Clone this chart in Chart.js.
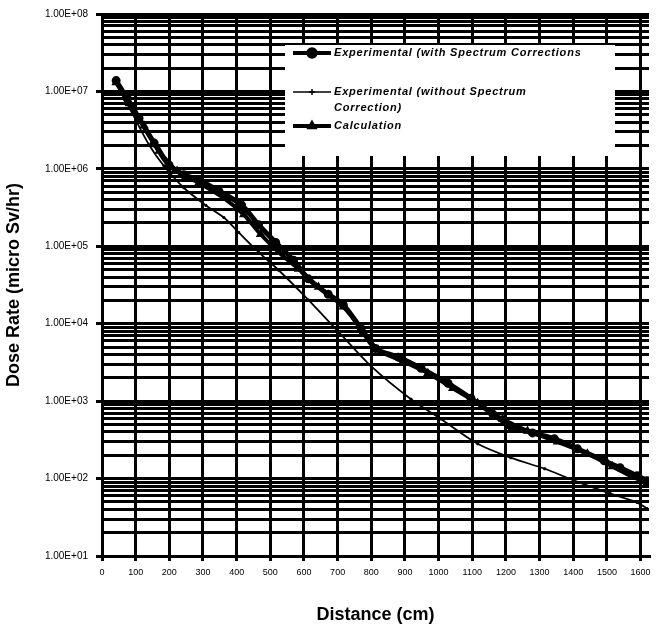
<!DOCTYPE html>
<html lang="en">
<head>
  <meta charset="UTF-8">
  <title>Dose Rate vs Distance</title>
  <script src="https://cdn.jsdelivr.net/npm/chart.js"></script>
  <style>
    body {
      margin: 0;
      background: #ffffff;
    }
    canvas {
      display: block;
    }
  </style>
</head>
<body>
  <canvas id="doseChart" width="658" height="627"></canvas>

  <script>
    // distance (cm) and dose rate (micro Sv/hr)
    const distWith = [42, 75, 110, 155, 199, 243, 288, 347, 415, 465, 516, 569, 613, 672, 717, 770, 812, 880, 948, 1028, 1096, 1161, 1214, 1279, 1344, 1412, 1492, 1539, 1590, 1619];
    const doseWith = [1.38e7, 8.1e6, 4.5e6, 2.15e6, 1.12e6, 8.4e5, 7.2e5, 5.2e5, 3.4e5, 1.9e5, 1.12e5, 6.6e4, 3.8e4, 2.4e4, 1.75e4, 8.6e3, 4.8e3, 3.7e3, 2.65e3, 1.7e3, 1.09e3, 680, 478, 389, 326, 243, 170, 138, 109, 94];

    const distWithout = [42, 90, 140, 184, 243, 309, 362, 406, 465, 525, 613, 702, 800, 918, 1007, 1116, 1214, 1315, 1403, 1510, 1590, 1619];
    const doseWithout = [1.27e7, 5.2e6, 2.03e6, 1.09e6, 5.7e5, 3.36e5, 2.35e5, 1.51e5, 8.4e4, 4.9e4, 2.03e4, 7.9e3, 2.81e3, 1.06e3, 588, 281, 186, 134, 94, 64, 49, 41];

    const distCalc = [42, 81, 125, 170, 223, 288, 362, 421, 471, 525, 584, 643, 717, 776, 820, 894, 968, 1042, 1116, 1190, 1264, 1353, 1442, 1516, 1575, 1619];
    const doseCalc = [1.30e7, 7.0e6, 3.6e6, 1.70e6, 9.4e5, 6.6e5, 4.2e5, 2.57e5, 1.43e5, 8.4e4, 5.1e4, 2.98e4, 1.65e4, 7.9e3, 4.6e3, 3.26e3, 2.29e3, 1.47e3, 942, 588, 412, 298, 209, 143, 106, 89];

    const seriesNames = [
      ['Experimental (with Spectrum Corrections'],
      ['Experimental (without Spectrum', 'Correction)'],
      ['Calculation']
    ];

    const xTicks = [0, 100, 200, 300, 400, 500, 600, 700, 800, 900, 1000, 1100, 1200, 1300, 1400, 1500, 1600];
    const decades = [1e1, 1e2, 1e3, 1e4, 1e5, 1e6, 1e7, 1e8];

    const toPoints = (xs, ys) => xs.map((x, i) => ({ x: x, y: ys[i] }));

    const isDecade = v => Math.abs(Math.log10(v) - Math.round(Math.log10(v))) < 1e-9;

    // legend sits inside the plot, on a white box
    const boxLegend = {
      id: 'boxLegend',
      afterDraw(chart) {
        const ctx = chart.ctx;
        ctx.save();
        ctx.fillStyle = '#ffffff';
        ctx.fillRect(285, 45, 330, 111);
        ctx.strokeStyle = '#000';
        ctx.fillStyle = '#000';
        ctx.textBaseline = 'middle';
        ctx.font = 'italic bold 11px Arial';
        ctx.letterSpacing = '0.8px';

        const rows = [
          { y: 53, width: 4, style: 'circle' },
          { y: 92, width: 1.5, style: 'cross' },
          { y: 126, width: 4, style: 'triangle' }
        ];
        rows.forEach((r, i) => {
          ctx.lineWidth = r.width;
          ctx.beginPath();
          ctx.moveTo(293, r.y);
          ctx.lineTo(331, r.y);
          ctx.stroke();
          ctx.lineWidth = 1.5;
          Chart.helpers.drawPoint(ctx, { pointStyle: r.style, radius: r.style === 'cross' ? 3 : 5, rotation: 0, borderWidth: 1.5 }, 312, r.y);
          ctx.fill();
          seriesNames[i].forEach((t, k) => ctx.fillText(t, 334, r.y + k * 16));
        });
        ctx.restore();
      }
    };

    new Chart(document.getElementById('doseChart'), {
      type: 'line',
      data: {
        datasets: [
          {
            label: seriesNames[0].join(' '),
            data: toPoints(distWith, doseWith),
            borderColor: '#000',
            backgroundColor: '#000',
            borderWidth: 5,
            pointStyle: 'circle',
            pointRadius: 2,
            tension: 0.3
          },
          {
            label: seriesNames[1].join(' '),
            data: toPoints(distWithout, doseWithout),
            borderColor: '#000',
            backgroundColor: '#000',
            borderWidth: 1.8,
            pointStyle: 'cross',
            pointRadius: 1.5,
            tension: 0.3
          },
          {
            label: seriesNames[2][0],
            data: toPoints(distCalc, doseCalc),
            borderColor: '#000',
            backgroundColor: '#000',
            borderWidth: 4,
            pointStyle: 'triangle',
            pointRadius: 1.5,
            tension: 0.3
          }
        ]
      },
      options: {
        responsive: false,
        animation: false,
        layout: { padding: { top: 10, right: 3, left: 0, bottom: 0 } },
        plugins: {
          legend: { display: false },
          tooltip: { enabled: false }
        },
        scales: {
          x: {
            type: 'linear',
            min: 0,
            max: 1625,
            afterBuildTicks: s => { s.ticks = xTicks.map(v => ({ value: v })); },
            afterFit: s => { s.height = 71; },
            ticks: {
              color: '#000',
              font: { family: 'Arial', size: 9 },
              padding: 6,
              maxRotation: 0,
              autoSkip: false,
              callback: v => String(v)
            },
            grid: { color: '#000', lineWidth: 3, tickLength: 5 },
            border: { color: '#000', width: 3 },
            title: {
              display: true,
              text: 'Distance (cm)',
              color: '#000',
              font: { family: 'Arial', size: 18, weight: 'bold' },
              padding: { top: 0, bottom: 1 }
            }
          },
          y: {
            type: 'logarithmic',
            min: 10,
            max: 1e8,
            afterBuildTicks: s => {
              const t = [];
              decades.forEach(d => {
                if (d === 1e8) { t.push({ value: d }); return; }
                for (let m = 1; m <= 9; m++) t.push({ value: m * d });
              });
              s.ticks = t;
            },
            afterFit: s => { s.width = 102; },
            ticks: {
              color: '#000',
              font: { family: 'Arial', size: 10 },
              padding: 8,
              autoSkip: false,
              callback: v => {
                if (!isDecade(v)) return '';
                const e = Math.round(Math.log10(v));
                return '1.00E+' + String(e).padStart(2, '0');
              }
            },
            grid: {
              color: '#000',
              lineWidth: 3,
              tickLength: 6,
              tickColor: c => (c.tick && isDecade(c.tick.value)) ? '#000' : 'rgba(0,0,0,0)'
            },
            border: { color: '#000', width: 3 },
            title: {
              display: true,
              text: 'Dose Rate (micro Sv/hr)',
              color: '#000',
              font: { family: 'Arial', size: 18, weight: 'bold' },
              padding: { top: 3, bottom: 0 }
            }
          }
        }
      },
      plugins: [boxLegend]
    });
  </script>
</body>
</html>
